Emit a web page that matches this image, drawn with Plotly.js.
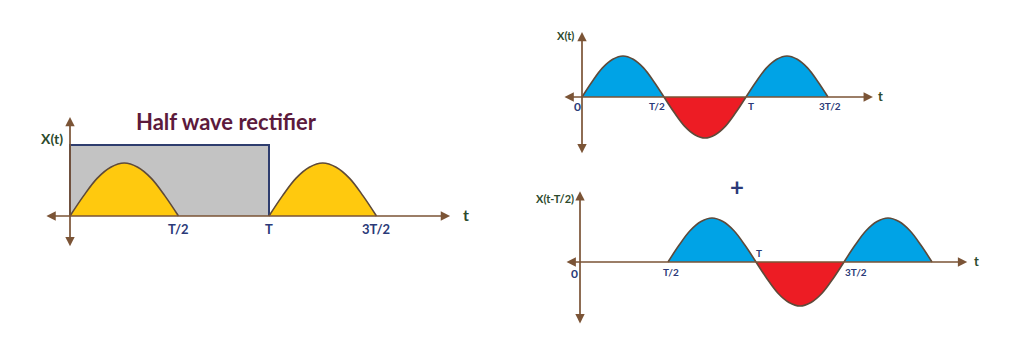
<!DOCTYPE html>
<html><head><meta charset="utf-8">
<script src="https://cdn.plot.ly/plotly-3.0.1.min.js"></script>
<style>html,body{margin:0;padding:0;background:#fff}#c{width:1019px;height:364px}</style>
</head><body><div id="c"></div>
<script>
// ---- data (time in units of T, amplitude in units of peak) ----
const lobePhase = [0, 0.125, 0.25, 0.375, 0.5, 0.625, 0.75, 0.875, 1];
const lobeShape = [0, 0.38, 0.71, 0.92, 1, 0.92, 0.71, 0.38, 0];

// panel 1: half wave rectifier
const rectLobes = [[0, 0.545], [1, 1.54]];        // [start, end]
const rectBox = {x0: 0, x1: 1, top: 1.34};
const rectTickVals = [0.545, 1, 1.54];
const rectTickText = ['T/2', 'T', '3T/2'];

// panel 2: x(t)
const sigLobes = [[0, 0.5, 1], [0.5, 1, -1], [1, 1.5, 1]];   // [start, end, sign]
const sigTickVals = [-0.03, 0.457, 1.03, 1.51];
const sigTickText = ['0', 'T/2', 'T', '3T/2'];

// panel 3: x(t - T/2)
const shLobes = [[0.5, 1, 1], [1, 1.5, -1], [1.5, 2, 1]];
const shTickVals = [-0.03, 0.517, 1.017, 1.57];
const shTickText = ['0', 'T/2', 'T', '3T/2'];
const shTickY = [-0.25, -0.23, 0.2, -0.23];

// ---- styling ----
const W = 1019, H = 364;
const AX = '#7b5436', EDGE = '#5e4a3a', NAVY = '#2b3a78', GREEN = '#2c4a2c';
const BLUE = '#00a3e6', RED = '#ed1c24', YEL = '#ffc90e';
const FONT = 'Lato, "Open Sans", sans-serif';

function xr(origin, ppu) { return [-origin / ppu, (W - origin) / ppu]; }
function yr(origin, ppu) { return [-(H - origin) / ppu, origin / ppu]; }

function lobeTrace(start, end, sign, color, xa, ya) {
  return {
    x: lobePhase.map(p => start + p * (end - start)),
    y: lobeShape.map(v => v * sign),
    xaxis: xa, yaxis: ya, type: 'scatter', mode: 'lines',
    line: {color: EDGE, width: 1.6, shape: 'spline'},
    fill: 'toself', fillcolor: color, hoverinfo: 'skip', showlegend: false
  };
}

const traces = [];
// gray box
traces.push({
  x: [rectBox.x0, rectBox.x0, rectBox.x1, rectBox.x1],
  y: [0, rectBox.top, rectBox.top, 0],
  xaxis: 'x', yaxis: 'y', type: 'scatter', mode: 'lines',
  line: {color: '#2e3d6e', width: 2}, fill: 'toself', fillcolor: '#c3c3c3',
  hoverinfo: 'skip', showlegend: false
});
rectLobes.forEach(l => traces.push(lobeTrace(l[0], l[1], 1, YEL, 'x', 'y')));
sigLobes.forEach(l => traces.push(lobeTrace(l[0], l[1], l[2], l[2] > 0 ? BLUE : RED, 'x2', 'y2')));
shLobes.forEach(l => traces.push(lobeTrace(l[0], l[1], l[2], l[2] > 0 ? BLUE : RED, 'x3', 'y3')));

function hidden(range) {
  return {range: range, domain: [0, 1], showgrid: false, zeroline: false, showline: false,
          showticklabels: false, ticks: '', fixedrange: true};
}

const ann = [];
function arrow(xa, ya, x0, y0, x1, y1) {
  ann.push({xref: xa, yref: ya, axref: xa, ayref: ya, x: x1, y: y1, ax: x0, ay: y0,
            text: '', showarrow: true, arrowside: 'end+start', arrowhead: 2,
            arrowsize: 1.1, arrowwidth: 1.7, arrowcolor: AX, standoff: 0, startstandoff: 0});
}
function label(xa, ya, x, y, text, size, color) {
  ann.push({xref: xa, yref: ya, x: x, y: y, text: '<b>' + text + '</b>', showarrow: false,
            font: {family: FONT, size: size, color: color}});
}

// panel 1 axes and labels
arrow('x', 'y', -0.126, 0, 1.91, 0);
arrow('x', 'y', 0, -0.6, 0, 1.87);
rectTickVals.forEach((v, i) => label('x', 'y', v, -0.24, rectTickText[i], 13, NAVY));
label('x', 'y', 1.99, 0.03, 't', 16, GREEN);
label('x', 'y', -0.09, 1.47, 'X(t)', 14, GREEN);
label('x', 'y', 0.784, 1.79, 'Half wave rectifier', 22, '#5c1a3c');

// panel 2
arrow('x2', 'y2', -0.116, 0, 1.774, 0);
arrow('x2', 'y2', 0, -1.41, 0, 1.585);
sigTickVals.forEach((v, i) => label('x2', 'y2', v, -0.22, sigTickText[i], i === 0 ? 12 : 10, NAVY));
label('x2', 'y2', 1.82, 0.02, 't', 13, GREEN);
label('x2', 'y2', -0.1, 1.49, 'X(t)', 11, GREEN);

// panel 3
arrow('x3', 'y3', -0.085, 0, 2.2, 0);
arrow('x3', 'y3', 0, -1.43, 0, 1.61);
shTickVals.forEach((v, i) => label('x3', 'y3', v, shTickY[i], shTickText[i], i === 0 ? 12 : 10, NAVY));
label('x3', 'y3', 2.25, 0.02, 't', 13, GREEN);
label('x3', 'y3', -0.14, 1.45, 'X(t-T/2)', 11, GREEN);

// plus sign
ann.push({xref: 'paper', yref: 'paper', x: 746 / W, y: 1 - 186 / H, text: '<b>+</b>',
          showarrow: false, font: {family: FONT, size: 24, color: NAVY}});

const layout = {
  width: W, height: H, margin: {l: 0, r: 0, t: 0, b: 0},
  paper_bgcolor: '#fff', plot_bgcolor: 'rgba(0,0,0,0)', showlegend: false,
  xaxis: hidden(xr(70, 199)), yaxis: hidden(yr(216, 53)),
  xaxis2: hidden(xr(582, 164)), yaxis2: hidden(yr(97, 41)),
  xaxis3: hidden(xr(580, 176)), yaxis3: hidden(yr(262, 44)),
  annotations: ann
};
layout.yaxis.anchor = 'x'; layout.yaxis2.anchor = 'x2'; layout.yaxis3.anchor = 'x3';
layout.xaxis.anchor = 'y'; layout.xaxis2.anchor = 'y2'; layout.xaxis3.anchor = 'y3';

Plotly.newPlot('c', traces, layout, {staticPlot: true, displayModeBar: false});
</script></body></html>
